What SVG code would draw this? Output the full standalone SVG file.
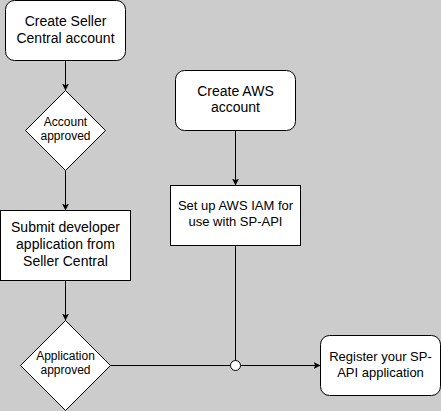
<svg xmlns="http://www.w3.org/2000/svg" width="441" height="411" viewBox="0 0 441 411">
<style>
.n{fill:#fff;stroke:#000;stroke-width:1}
.t{font-family:"Liberation Sans",Arial,sans-serif;font-size:14px;fill:#000;text-anchor:middle}
.s{font-size:12px}
.m{font-size:13px}
.c{fill:none;stroke:#000;stroke-width:1}
</style>
<defs>
<marker id="a" viewBox="0 0 10 10" refX="10" refY="5" markerWidth="7" markerHeight="7" markerUnits="userSpaceOnUse" orient="auto">
<path d="M0,0 L10,5 L0,10 L2.5,5 Z" fill="#000"/>
</marker>
</defs>
<rect width="441" height="411" fill="#cccccc"/>
<g id="connectors">
<path class="c" d="M65.5,60.5 V90.5" marker-end="url(#a)"/>
<path class="c" d="M65.5,170.5 V210.5" marker-end="url(#a)"/>
<path class="c" d="M65.5,280.5 V320.5" marker-end="url(#a)"/>
<path class="c" d="M235.5,130.5 V185.5" marker-end="url(#a)"/>
<path class="c" d="M235.5,245.5 V360.5"/>
<path class="c" d="M110.5,365.5 H320.5" marker-end="url(#a)"/>
<circle cx="235.5" cy="365.5" r="5" fill="#fff" stroke="#000"/>
</g>
<g id="seller">
<rect class="n" x="5.5" y="0.5" width="120" height="60" rx="9"/>
<text class="t" x="65.5" y="26">Create Seller</text>
<text class="t" x="65.5" y="42.5">Central account</text>
</g>
<g id="acct-approved">
<path class="n" d="M65.5,90.5 L105.5,130.5 L65.5,170.5 L25.5,130.5 Z"/>
<text class="t s" x="65.5" y="126">Account</text>
<text class="t s" x="65.5" y="140">approved</text>
</g>
<g id="submit">
<rect class="n" x="0.5" y="210.5" width="130" height="70"/>
<text class="t" x="65.5" y="232">Submit developer</text>
<text class="t" x="65.5" y="249">application from</text>
<text class="t" x="65.5" y="266">Seller Central</text>
</g>
<g id="app-approved">
<path class="n" d="M65.5,320.5 L110.5,365.5 L65.5,410.5 L20.5,365.5 Z"/>
<text class="t s" x="65.5" y="359.5">Application</text>
<text class="t s" x="65.5" y="374">approved</text>
</g>
<g id="aws">
<rect class="n" x="175.5" y="70.5" width="120" height="60" rx="9"/>
<text class="t" x="235.5" y="96">Create AWS</text>
<text class="t" x="235.5" y="112">account</text>
</g>
<g id="iam">
<rect class="n" x="170.5" y="185.5" width="130" height="60"/>
<text class="t m" x="235.5" y="210">Set up AWS IAM for</text>
<text class="t m" x="235.5" y="226">use with SP-API</text>
</g>
<g id="register">
<rect class="n" x="320.5" y="335.5" width="120" height="60" rx="9"/>
<text class="t m" x="380.5" y="361">Register your SP-</text>
<text class="t m" x="380.5" y="377">API application</text>
</g>
</svg>
